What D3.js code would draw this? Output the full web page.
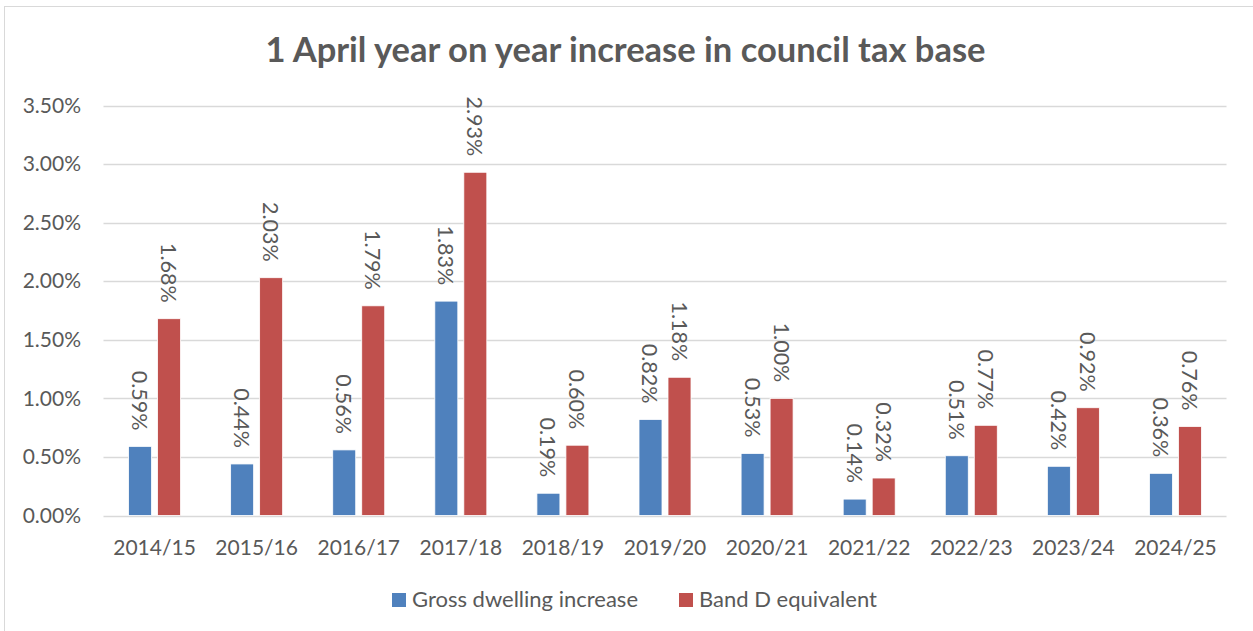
<!DOCTYPE html>
<html>
<head>
<meta charset="utf-8">
<script src="https://cdn.jsdelivr.net/npm/d3@7"></script>
<style>
  body { margin: 0; background: #fff; }
  text { font-family: Lato, "Open Sans", sans-serif; fill: #595959; }
</style>
</head>
<body>
<svg id="chart" width="1253" height="631"></svg>
<script>
// Council tax base: year-on-year increase at 1 April
const categories = ["2014/15", "2015/16", "2016/17", "2017/18", "2018/19", "2019/20",
                    "2020/21", "2021/22", "2022/23", "2023/24", "2024/25"];
const grossDwelling = [0.59, 0.44, 0.56, 1.83, 0.19, 0.82, 0.53, 0.14, 0.51, 0.42, 0.36];
const bandD = [1.68, 2.03, 1.79, 2.93, 0.60, 1.18, 1.00, 0.32, 0.77, 0.92, 0.76];
const seriesNames = ["Gross dwelling increase", "Band D equivalent"];
const seriesColors = ["#4f81bd", "#c0504d"];
const yTicks = [0, 0.5, 1.0, 1.5, 2.0, 2.5, 3.0, 3.5];
const chartTitle = "1 April year on year increase in council tax base";

const W = 1253, H = 631;
const plot = { left: 103.5, right: 1226.5, top: 105.5, bottom: 515.5 };

const svg = d3.select("#chart");

// outer frame
svg.append("rect")
  .attr("x", 4.5).attr("y", 6.5)
  .attr("width", W).attr("height", H)
  .attr("fill", "none").attr("stroke", "#d9d9d9").attr("stroke-width", 1);

// title
svg.append("text")
  .attr("x", 625.5).attr("y", 62)
  .attr("text-anchor", "middle")
  .style("font-size", "34.5px").style("font-weight", "bold")
  .text(chartTitle);

const x0 = d3.scaleBand().domain(categories).range([plot.left, plot.right]);
const x1 = d3.scaleBand().domain(seriesNames).range([-26, 26]).paddingInner(0.207);
const y = d3.scaleLinear().domain([0, 3.5]).range([plot.bottom, plot.top]);
const fmt = v => v.toFixed(2) + "%";

// gridlines
svg.append("g").selectAll("line").data(yTicks).join("line")
  .attr("x1", plot.left).attr("x2", plot.right)
  .attr("y1", d => Math.round(y(d)) + 0.5).attr("y2", d => Math.round(y(d)) + 0.5)
  .attr("stroke", "#d9d9d9").attr("stroke-width", 1.3);

// y axis labels
const yAxis = d3.axisLeft(y).tickValues(yTicks).tickFormat(fmt).tickSize(0).tickPadding(0);
const yg = svg.append("g").attr("transform", "translate(81,0)").call(yAxis);
yg.select(".domain").remove();
yg.selectAll("text")
  .style("font-size", "21px").attr("fill", "#595959")
  .style("font-family", "Lato, 'Open Sans', sans-serif");

// x axis labels
const xAxis = d3.axisBottom(x0).tickSize(0).tickPadding(0);
const xg = svg.append("g").attr("transform", `translate(0,${plot.bottom})`).call(xAxis);
xg.select(".domain").remove();
xg.selectAll("text")
  .attr("dy", null).attr("y", 39.5)
  .style("font-size", "21px").attr("fill", "#595959")
  .style("font-family", "Lato, 'Open Sans', sans-serif");

// bars
const series = [grossDwelling, bandD];
const rows = categories.map((c, i) => ({
  cat: c,
  vals: seriesNames.map((s, j) => ({ s, j, v: series[j][i] }))
}));

const groups = svg.append("g").selectAll("g").data(rows).join("g")
  .attr("transform", d => `translate(${x0(d.cat) + x0.bandwidth() / 2},0)`);

groups.selectAll("rect").data(d => d.vals).join("rect")
  .attr("x", d => x1(d.s))
  .attr("width", x1.bandwidth())
  .attr("y", d => y(d.v))
  .attr("height", d => y(0) - y(d.v))
  .attr("fill", d => seriesColors[d.j])
  .attr("stroke", "#fff").attr("stroke-width", 0.8);

// rotated value labels above each bar
groups.selectAll("text.val").data(d => d.vals).join("text")
  .attr("class", "val")
  .attr("transform", d => `translate(${x1(d.s) + x1.bandwidth() / 2},${y(d.v) - 16}) rotate(90)`)
  .attr("text-anchor", "end")
  .attr("dominant-baseline", "central")
  .style("font-size", "21.5px")
  .text(d => fmt(d.v));

// legend
const legendX = [392, 679];
const legend = svg.append("g").selectAll("g").data(seriesNames).join("g")
  .attr("transform", (d, i) => `translate(${legendX[i]},593)`);
legend.append("rect").attr("width", 14).attr("height", 14)
  .attr("fill", (d, i) => seriesColors[i]);
legend.append("text").attr("x", 20).attr("y", 14)
  .style("font-size", "22px").text(d => d);
</script>
</body>
</html>
